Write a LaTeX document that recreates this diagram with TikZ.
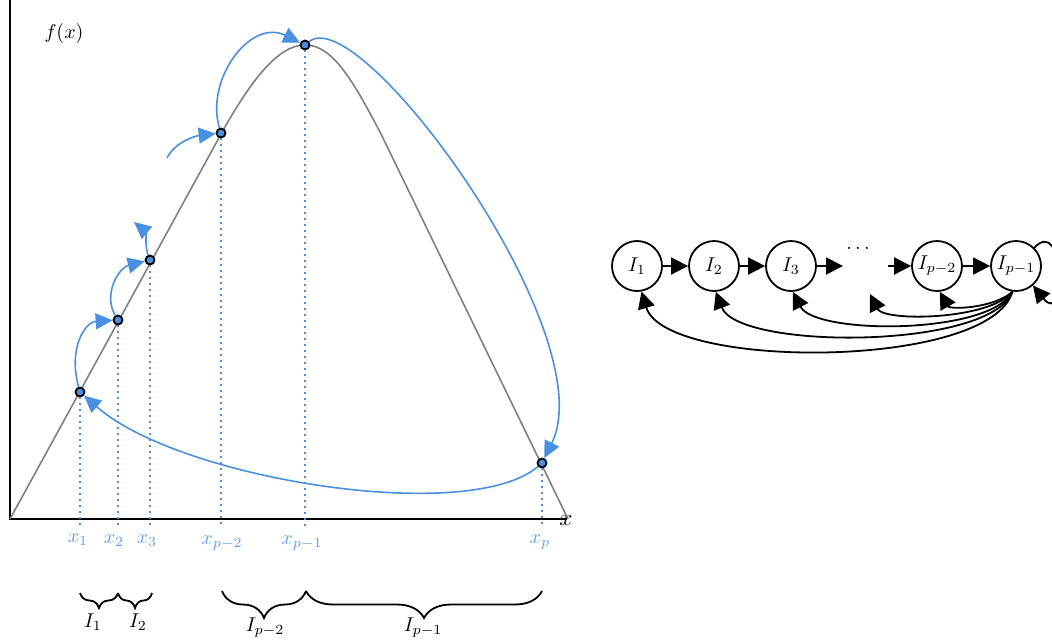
\documentclass[tikz,border=0pt]{standalone}
\usetikzlibrary{arrows.meta,decorations.pathreplacing}
\definecolor{myblue}{RGB}{74,144,226}
\definecolor{lblue}{RGB}{96,160,230}
\begin{document}
\begin{tikzpicture}[x=0.5pt,y=-0.5pt,
  pt/.style={circle, draw=black, fill=myblue, line width=0.9pt, inner sep=0pt, minimum size=4.5pt},
  bl/.style={myblue, line width=0.8pt, -{Triangle[length=8.5pt,width=8pt]}},
  st/.style={circle, draw, line width=0.9pt, minimum size=25pt, inner sep=0pt},
  ar/.style={line width=0.9pt, -{Triangle[length=8.5pt,width=8.5pt]}},
  dts/.style={myblue, line width=0.9pt, dash pattern=on 0.9pt off 2.1pt},
  brc/.style={decorate, decoration={brace, mirror, amplitude=#1}, line width=0.9pt},
  xl/.style={text=lblue}
]
\useasboundingbox (0,0) rectangle (1052,639);
\clip (0,0) rectangle (1052,639);

% axes
\draw[line width=0.9pt] (10,0) -- (10,519) -- (567,519);
\node[scale=1.15] (xlab) at (566,521) {$x$};
\node (flab) at (64,33) {$f(x)$};

% graph of f
\draw[gray, line width=0.8pt] (10,519) -- (215,145) .. controls (250,80) and (278,45) .. (305,45)
  .. controls (332,45) and (352,78) .. (382,136) -- (568,519);

% points
\node[pt] (P1) at (80,392) {};
\node[pt] (P2) at (118,320) {};
\node[pt] (P3) at (150,260) {};
\node[pt] (P4) at (221,133) {};
\node[pt] (P5) at (305,45) {};
\node[pt] (P6) at (542,463) {};
\coordinate (bot) at (0,527);

% dotted guides
\foreach \p in {P1,P2,P3,P4,P5,P6} \draw[dts] (\p) -- (\p |- bot);

% x labels
\node[xl] (x1) at (78,540) {$x_1$};
\node[xl] (x2) at (114,541) {$x_2$};
\node[xl] (x3) at (147,541) {$x_3$};
\node[xl] (x4) at (222,543) {$x_{p-2}$};
\node[xl] (x5) at (302,543) {$x_{p-1}$};
\node[xl] (x6) at (540,542) {$x_p$};

% blue orbit arrows
\coordinate (s3) at (134,222);
\coordinate (s4) at (167,158);
\draw[bl] (P1) .. controls (68,348) and (85,322) .. (P2);
\draw[bl] (P2) .. controls (103,295) and (118,268) .. (P3);
\draw[bl] (P3) .. controls (145,247) and (146,232) .. (s3);
\draw[bl] (s4) .. controls (175,142) and (195,136) .. (P4);
\draw[bl] (P4) .. controls (205,80) and (250,18) .. (P5);
\draw[bl] (P5) .. controls (360,0) and (605,335) .. (P6);
\draw[bl] (P6) .. controls (470,525) and (180,480) .. (P1);

% braces
\draw[brc=7.5pt] (80,593) -- (118,593);
\draw[brc=7.5pt] (118,593) -- (152,593);
\draw[brc=13.5pt] (222,591) -- (306,591);
\draw[brc=13.5pt] (306,591) -- (542,591);
\node (b1) at (93,622) {$I_1$};
\node (b2) at (138,622) {$I_2$};
\node (b3) at (265,628) {$I_{p-2}$};
\node (b4) at (423,628) {$I_{p-1}$};

% transition graph
\node[st] (I1) at (637,266) {$I_1$};
\node[st] (I2) at (714,266) {$I_2$};
\node[st] (I3) at (791,266) {$I_3$};
\node[st] (Ipm2) at (937,266) {$I_{p-2}$};
\node[st] (Ipm1) at (1016,266) {$I_{p-1}$};
\node (dd) at (858,248) {$\dots$};
\coordinate (c1) at (843,266);
\coordinate (c2) at (888,266);
\coordinate (c3) at (870,294);

\draw[ar] (I1) -- (I2);
\draw[ar] (I2) -- (I3);
\draw[ar] (I3) -- (c1);
\draw[ar] (c2) -- (Ipm2);
\draw[ar] (Ipm2) -- (Ipm1);

\draw[ar] (Ipm1.-98) .. controls (990,370) and (665,370) .. (I1.-80);
\draw[ar] (Ipm1.-98) .. controls (990,350) and (738,350) .. (I2.-86);
\draw[ar] (Ipm1.-98) .. controls (990,335) and (815,335) .. (I3.-86);
\draw[ar] (Ipm1.-98) .. controls (990,320) and (884,322) .. (c3);
\draw[ar] (Ipm1.-98) .. controls (995,308) and (950,310) .. (Ipm2.-84);
\draw[ar] (Ipm1.45) .. controls (1065,215) and (1067,328) .. (Ipm1.-49);
\end{tikzpicture}
\end{document}
